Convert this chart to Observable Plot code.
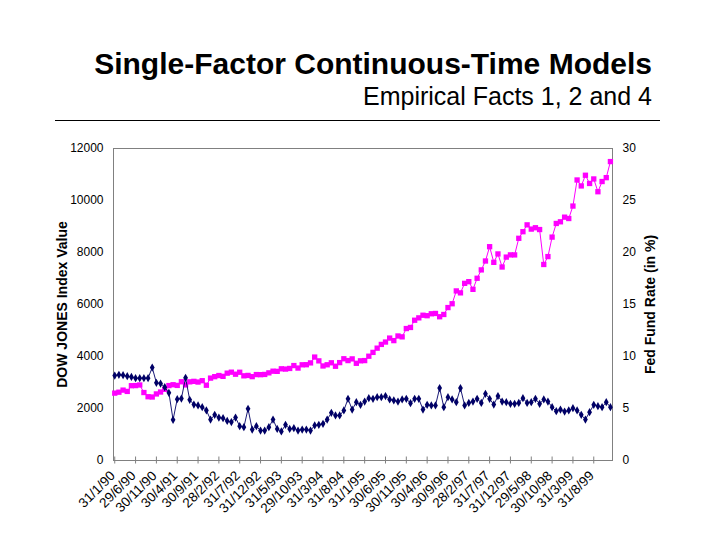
<!DOCTYPE html>
<html><head><meta charset="utf-8">
<script src="https://cdn.jsdelivr.net/npm/d3@7"></script>
<script src="https://cdn.jsdelivr.net/npm/@observablehq/plot@0.6"></script>
<style>
body{margin:0;background:#fff;font-family:"Liberation Sans",Arial,sans-serif;}
#page{position:relative;width:720px;height:540px;overflow:hidden;}
#title{position:absolute;right:68px;top:49px;font-size:30px;font-weight:bold;line-height:30px;white-space:nowrap;}
#subtitle{position:absolute;right:68px;top:84px;font-size:25px;line-height:25px;white-space:nowrap;}
#rule{position:absolute;left:55px;top:120px;width:605px;height:0;border-top:1px solid #000;}
#chart{position:absolute;left:0;top:130px;}
</style></head><body>
<div id="page">
<div id="title">Single-Factor Continuous-Time Models</div>
<div id="subtitle">Empirical Facts 1, 2 and 4</div>
<div id="rule"></div>
<div id="chart"></div>
</div>
<script>
// Month-end values, Jan 1990 .. Dec 1999
const djia = [
 2591, 2627, 2707, 2657, 2877, 2881, 2905, 2614, 2453, 2442, 2560, 2634,
 2736, 2882, 2914, 2888, 3028, 2907, 3025, 3044, 3017, 3069, 2895, 3169,
 3224, 3268, 3236, 3359, 3397, 3319, 3394, 3257, 3272, 3226, 3305, 3301,
 3310, 3371, 3435, 3428, 3527, 3516, 3540, 3651, 3555, 3681, 3684, 3754,
 3978, 3832, 3636, 3682, 3758, 3625, 3765, 3913, 3843, 3908, 3739, 3834,
 3843, 4011, 4158, 4321, 4465, 4556, 4708, 4611, 4789, 4756, 5075, 5117,
 5395, 5486, 5587, 5569, 5643, 5655, 5529, 5616, 5882, 6029, 6522, 6448,
 6813, 6878, 6584, 7009, 7331, 7673, 8223, 7622, 7945, 7442, 7823, 7908,
 7907, 8546, 8800, 9063, 8900, 8952, 8883, 7539, 7843, 8592, 9117, 9181,
 9359, 9307, 9786, 10789, 10560, 10971, 10655, 10829, 10337, 10730, 10878, 11497
];
const fedRate = [
 8.17, 8.24, 8.20, 8.11, 8.04, 7.92, 7.92, 7.92, 7.92, 8.94,
 7.47, 7.40, 7.05, 6.51, 3.91, 5.90, 5.96, 7.95, 5.83, 5.38,
 5.29, 5.13, 4.81, 3.94, 4.39, 4.13, 4.07, 3.81, 3.69, 4.13,
 3.30, 3.20, 4.97, 2.98, 3.30, 2.88, 2.88, 3.20, 3.94, 3.04,
 2.79, 3.43, 3.04, 3.11, 2.88, 2.98, 2.98, 2.88, 3.37, 3.43,
 3.53, 3.94, 4.58, 4.33, 4.33, 4.81, 5.93, 4.90, 5.61, 5.35,
 5.67, 5.99, 5.93, 6.09, 6.09, 6.19, 5.87, 5.77, 5.67, 5.87,
 5.93, 5.51, 5.93, 5.93, 4.90, 5.35, 5.29, 5.29, 6.96, 5.13,
 6.09, 5.87, 5.61, 6.96, 5.29, 5.54, 5.67, 5.93, 5.54, 6.41,
 5.93, 5.38, 6.19, 5.67, 5.61, 5.45, 5.45, 5.54, 5.99, 5.54,
 5.61, 5.93, 5.45, 5.87, 5.67, 5.13, 4.74, 4.90, 4.71, 4.81,
 5.03, 4.81, 4.39, 3.94, 4.65, 5.35, 5.22, 5.13, 5.61, 5.13
];
const tickLabels = ["31/1/90","29/6/90","30/11/90","30/4/91","30/9/91","28/2/92","31/7/92","31/12/92",
 "31/5/93","29/10/93","31/3/94","31/8/94","31/1/95","30/6/95","30/11/95","30/4/96","30/9/96",
 "28/2/97","31/7/97","31/12/97","29/5/98","30/10/98","31/3/99","31/8/99"];
const labelEvery = 5;
const leftTicks = [0, 2000, 4000, 6000, 8000, 10000, 12000];
const rightTicks = [0, 5, 10, 15, 20, 25, 30];
const leftMax = 12000, rightMax = 30;

const pink = "#ff00ff", navy = "#000066";
const ratio = leftMax / rightMax;
const rows = djia.map((v, i) => ({i, djia: v, fed: fedRate[i] * ratio}));
const tickIdx = tickLabels.map((_, k) => k * labelEvery);

const chart = Plot.plot({
  width: 720, height: 410,
  marginLeft: 113, marginRight: 108, marginTop: 18, marginBottom: 80,
  style: {fontFamily: "'Liberation Sans', Arial, sans-serif", fontSize: "12px", color: "#000", background: "#fff", overflow: "visible"},
  x: {domain: [-0.3, djia.length - 0.5]},
  y: {domain: [0, leftMax]},
  marks: [
    Plot.frame({stroke: "#808080"}),
    Plot.axisY({ticks: leftTicks, anchor: "left", tickSize: 0, tickPadding: 10, tickFormat: d => String(d), label: null, fontSize: 12}),
    Plot.axisY({ticks: rightTicks.map(d => d * ratio), anchor: "right", tickSize: 0, tickPadding: 10, tickFormat: d => String(d / ratio), label: null, fontSize: 12}),
    Plot.axisX({ticks: tickIdx, anchor: "bottom", tickSize: 7, dy: -3.5, text: null, label: null, stroke: "#808080"}),
    Plot.axisX({ticks: tickIdx, anchor: "bottom", tickSize: 0, tickPadding: 13, dx: -2, tickRotate: -45, tickFormat: d => tickLabels[d / labelEvery], label: null, fontSize: 13.5}),
    Plot.line(rows, {x: "i", y: "djia", stroke: pink, strokeWidth: 1}),
    Plot.dot(rows, {x: "i", y: "djia", symbol: "square", fill: pink, r: 3}),
    Plot.line(rows, {x: "i", y: "fed", stroke: navy, strokeWidth: 0.9}),
    Plot.dot(rows, {x: "i", y: "fed", symbol: "diamond", fill: navy, r: 2.5}),
    Plot.text(["DOW JONES Index Value"], {frameAnchor: "left", dx: -51, rotate: -90, textAnchor: "middle", text: d => d, fontWeight: "bold", fontSize: 14}),
    Plot.text(["Fed Fund Rate (in %)"], {frameAnchor: "right", dx: 38, rotate: -90, textAnchor: "middle", text: d => d, fontWeight: "bold", fontSize: 14})
  ]
});
document.getElementById("chart").appendChild(chart);
</script>
</body></html>
